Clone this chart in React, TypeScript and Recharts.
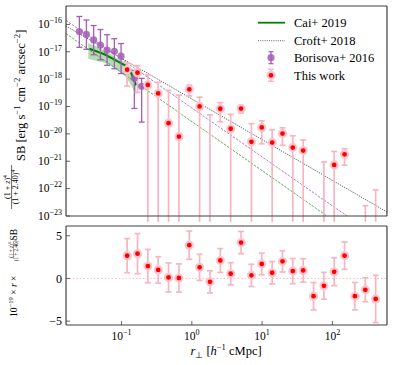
import React from "react";
import {
  ComposedChart,
  Scatter,
  Line,
  Area,
  XAxis,
  YAxis,
  ErrorBar,
  Legend,
  ReferenceLine,
} from "recharts";

const FONT = "'Liberation Serif', 'Times New Roman', Times, serif";
const FRAME = "#404040";
const PINK = "#f6b6c1";
const RED = "#ff0000";
const PURPLE = "#a35db6";
const GREEN = "#008000";
const BAND = "#b3dcb3";
const THIN = 0.01; // axes take no room; margins place the plot

// This work: bin centres [h^-1 cMpc], r x SB in units of 1e-19, 1 sigma
const rBins = [0.12, 0.1685, 0.2366, 0.332, 0.466, 0.655, 0.919, 1.29, 1.81, 2.54, 3.57, 5.01, 7.04, 9.88, 13.9, 19.5, 27.3, 38.4, 53.9, 75.7, 106, 149, 209, 294, 413];
const rSB = [2.67, 2.9, 1.45, 1.0, 0.115, 0.052, 3.9, 1.3, -0.4, 2.1, 0.55, 4.2, 0.36, 1.7, 0.67, 2.0, 0.86, 0.94, -2.08, -0.86, 0.78, 2.67, -2.08, -1.33, -2.4];
const rSBErr = [2.0, 2.35, 1.95, 1.55, 1.7, 1.65, 1.65, 1.53, 1.3, 1.4, 1.3, 1.3, 1.3, 1.27, 1.3, 1.25, 1.47, 1.37, 1.6, 1.57, 1.63, 1.6, 1.6, 1.4, 2.77];

// Borisova+ 2016
const borR = [0.0251, 0.0316, 0.0401, 0.05, 0.0622, 0.079, 0.0984, 0.152, 0.193];
const borSB = [5.5e-17, 4.3e-17, 2.7e-17, 1.76e-17, 1.15e-17, 1.04e-17, 6.9e-18, 1.1e-18, 5.5e-19];
const borLow = [1.45e-17, 1.23e-17, 7.8e-18, 5.1e-18, 3.2e-18, 2.4e-18, 1.6e-18, 8.5e-20, 2.7e-20];
const borHigh = [1.95e-16, 1.45e-16, 9.1e-17, 6.5e-17, 4.2e-17, 3.0e-17, 2.0e-17, 2.1e-18, 1.07e-18];

// Cai+ 2019 profile and its band
const caiR = [0.0348, 0.057, 0.088, 0.117, 0.138, 0.161];
const caiSB = [1.29e-17, 8.1e-18, 4.5e-18, 3.0e-18, 1.6e-18, 5.9e-19];
const caiBandR = [0.0336, 0.0457, 0.0636, 0.088, 0.116, 0.137, 0.161];
const caiBandLow = [5.6e-18, 4.5e-18, 3.7e-18, 2.1e-18, 1.2e-18, 5.9e-19, 2.7e-19];
const caiBandHigh = [2.1e-17, 1.48e-17, 9.8e-18, 5.6e-18, 4.0e-18, 2.4e-18, 1.38e-18];

// power-law lines (end points)
const croftR = [0.0162, 598];
const croftSB = [8.7e-17, 1.4e-23];
const borFitR = [0.0162, 161];
const borFitSB = [1.41e-16, 1e-23];
const caiFitR = [0.0162, 83.8];
const caiFitSB = [4.6e-17, 1e-23];

const legendLabels = ["Cai+ 2019", "Croft+ 2018", "Borisova+ 2016", "This work"];

const X_DOMAIN = [0.0162, 598];
const SB_DOMAIN = [1e-23, 4.7e-16];
const RES_DOMAIN = [-5.45, 6.14];

const xMajorTicks = [0.1, 1, 10, 100];
const xMinorTicks = [
  0.02, 0.03, 0.04, 0.05, 0.06, 0.07, 0.08, 0.09,
  0.2, 0.3, 0.4, 0.5, 0.6, 0.7, 0.8, 0.9,
  2, 3, 4, 5, 6, 7, 8, 9,
  20, 30, 40, 50, 60, 70, 80, 90,
  200, 300, 400, 500,
];
const sbDecades = [-23, -22, -21, -20, -19, -18, -17, -16];
const sbMajorTicks = sbDecades.map((d) => Math.pow(10, d));
const sbMinorTicks = sbDecades
  .flatMap((d) => [2, 3, 4, 5, 6, 7, 8, 9].map((m) => m * Math.pow(10, d)))
  .filter((v) => v < SB_DOMAIN[1]);
const resMajorTicks = [-5, 0, 5];
const resMinorTicks = [-4, -3, -2, -1, 1, 2, 3, 4, 6];

// tables
const FLOOR = 1e-24;
const thisWorkRes = rBins.map((r, i) => ({ r, v: rSB[i], err: [rSBErr[i], rSBErr[i]] }));
const thisWorkSB = rBins
  .map((r, i) => ({ r, sb: (rSB[i] * 1e-19) / r }))
  .filter((d) => d.sb > 0);
const thisWorkBars = rBins
  .map((r, i) => {
    const hi = ((rSB[i] + rSBErr[i]) * 1e-19) / r;
    const lo = Math.max(((rSB[i] - rSBErr[i]) * 1e-19) / r, FLOOR);
    return { r, sb: hi, err: [hi - lo, 0] };
  })
  .filter((d) => d.sb > SB_DOMAIN[0]);
const borisova = borR.map((r, i) => ({
  r,
  sb: borSB[i],
  err: [borSB[i] - borLow[i], borHigh[i] - borSB[i]],
}));
const cai = caiR.map((r, i) => ({ r, sb: caiSB[i] }));
const caiBand = caiBandR.map((r, i) => ({ r, band: [caiBandLow[i], caiBandHigh[i]] }));
const croft = croftR.map((r, i) => ({ r, sb: croftSB[i] }));
const borFit = borFitR.map((r, i) => ({ r, sb: borFitSB[i] }));
const caiFit = caiFitR.map((r, i) => ({ r, sb: caiFitSB[i] }));

const axisLine = { stroke: FRAME, strokeWidth: 1.2 };
const tickLine = { stroke: FRAME, strokeWidth: 0.8 };

function PowTick(props: any) {
  const { x, y, payload, textAnchor, shift } = props;
  const e = Math.round(Math.log10(payload.value));
  return (
    <text x={x} y={y + shift} textAnchor={textAnchor} fontFamily={FONT} fontSize={11.5} fill="#000">
      10
      <tspan dy={-5} fontSize={8}>
        {e < 0 ? "\u2212" + -e : String(e)}
      </tspan>
    </text>
  );
}

function RedDot(props: any) {
  const { cx, cy } = props;
  if (cx == null || cy == null) return <g />;
  return <circle cx={cx} cy={cy} r={3.5} fill={RED} stroke="#ffc4cd" strokeWidth={2.2} />;
}

function PurpleDot(props: any) {
  const { cx, cy } = props;
  if (cx == null || cy == null) return <g />;
  return <circle cx={cx} cy={cy} r={3.6} fill={PURPLE} fillOpacity={0.85} />;
}

function TopYLabel() {
  return (
    <g transform="translate(25,111) rotate(-90)" fontFamily={FONT} fill="#000">
      <text x={-76} y={-15.5} fontSize={8} textAnchor="middle">
        (1 + <tspan fontStyle="italic">z</tspan>)<tspan dy={-3} fontSize={5.6}>4</tspan>
      </text>
      <line x1={-98} x2={-54} y1={-13.4} y2={-13.4} stroke="#000" strokeWidth={0.6} />
      <text x={-76} y={-7} fontSize={8} textAnchor="middle">
        (1 + 2.40)<tspan dy={-3} fontSize={5.6}>4</tspan>
      </text>
      <text x={-50} y={0} fontSize={12.5}>
        SB [erg s<tspan dy={-4.6} fontSize={8.8}>{"\u22121"}</tspan>
        <tspan dy={4.6}>{" cm"}</tspan>
        <tspan dy={-4.6} fontSize={8.8}>{"\u22122"}</tspan>
        <tspan dy={4.6}>{" arcsec"}</tspan>
        <tspan dy={-4.6} fontSize={8.8}>{"\u22122"}</tspan>
        <tspan dy={4.6}>]</tspan>
      </text>
    </g>
  );
}

function BottomYLabel() {
  return (
    <g transform="translate(16.5,55) rotate(-90)" fontFamily={FONT} fill="#000">
      <text x={-42} y={0} fontSize={9.5}>
        10<tspan dy={-3.8} fontSize={6.6}>{"\u221219"}</tspan>
        <tspan dy={3.8}>{" \u00d7 "}</tspan>
        <tspan fontStyle="italic">r</tspan>
        {" \u00d7"}
      </text>
      <text x={25} y={-3.9} fontSize={5.2} textAnchor="middle">
        (1 + <tspan fontStyle="italic">z</tspan>)<tspan dy={-2} fontSize={3.8}>4</tspan>
      </text>
      <line x1={16.5} x2={33.5} y1={-3.1} y2={-3.1} stroke="#000" strokeWidth={0.4} />
      <text x={25} y={1.2} fontSize={5.2} textAnchor="middle">
        (1 + 2.40)<tspan dy={-2} fontSize={3.8}>4</tspan>
      </text>
      <text x={34.5} y={0} fontSize={9.5}>
        SB
      </text>
    </g>
  );
}

function XLabel() {
  return (
    <text x={226} y={135} textAnchor="middle" fontFamily={FONT} fontSize={12.5} fill="#000">
      <tspan fontStyle="italic">r</tspan>
      <tspan dy={2.5} fontSize={8.5}>{"\u22a5"}</tspan>
      <tspan dy={-2.5}>{" ["}</tspan>
      <tspan fontStyle="italic">h</tspan>
      <tspan dy={-5} fontSize={8.5}>{"\u22121"}</tspan>
      <tspan dy={5}>{" cMpc]"}</tspan>
    </text>
  );
}

function LegendBox() {
  const tx = 44;
  const rows = [12.7, 30.7, 47.7, 65.3];
  return (
    <svg width={140} height={80} style={{ display: "block" }} fontFamily={FONT}>
      <line x1={8} x2={35} y1={rows[0]} y2={rows[0]} stroke={GREEN} strokeWidth={1.8} />
      <line x1={8} x2={35} y1={rows[1]} y2={rows[1]} stroke="#555" strokeWidth={0.9} strokeDasharray="1 1.2" />
      <line x1={21} x2={21} y1={rows[2] - 6} y2={rows[2] + 6} stroke={PURPLE} strokeWidth={1.3} />
      <line x1={18.5} x2={23.5} y1={rows[2] - 6} y2={rows[2] - 6} stroke={PURPLE} strokeWidth={1.2} />
      <line x1={18.5} x2={23.5} y1={rows[2] + 6} y2={rows[2] + 6} stroke={PURPLE} strokeWidth={1.2} />
      <circle cx={21} cy={rows[2]} r={3.6} fill={PURPLE} fillOpacity={0.85} />
      <line x1={21} x2={21} y1={rows[3] - 6} y2={rows[3] + 6} stroke={PINK} strokeWidth={1.6} />
      <line x1={18} x2={24} y1={rows[3] - 6} y2={rows[3] - 6} stroke={PINK} strokeWidth={1.4} />
      <line x1={18} x2={24} y1={rows[3] + 6} y2={rows[3] + 6} stroke={PINK} strokeWidth={1.4} />
      <circle cx={21} cy={rows[3]} r={3.5} fill={RED} stroke="#ffc4cd" strokeWidth={2.2} />
      {legendLabels.map((t, i) => (
        <text key={t} x={tx} y={rows[i] + 4.3} fontSize={12.5} fill="#000">
          {t}
        </text>
      ))}
    </svg>
  );
}

function xFrame() {
  return [
    <XAxis key="xbm" xAxisId="xbm" dataKey="r" type="number" scale="log" domain={X_DOMAIN} allowDataOverflow ticks={xMinorTicks} interval={0} height={THIN} tickSize={-2} tick={false} axisLine={false} tickLine={tickLine} />,
    <XAxis key="xtM" xAxisId="xtM" orientation="top" dataKey="r" type="number" scale="log" domain={X_DOMAIN} allowDataOverflow ticks={xMajorTicks} interval={0} height={THIN} tickSize={-4} tick={false} axisLine={axisLine} tickLine={tickLine} />,
    <XAxis key="xtm" xAxisId="xtm" orientation="top" dataKey="r" type="number" scale="log" domain={X_DOMAIN} allowDataOverflow ticks={xMinorTicks} interval={0} height={THIN} tickSize={-2} tick={false} axisLine={false} tickLine={tickLine} />,
  ];
}

function TopPanel() {
  return (
    <ComposedChart width={394} height={222} margin={{ top: 6, right: 7, bottom: 6, left: 66 }}>
      <XAxis xAxisId="x" dataKey="r" type="number" scale="log" domain={X_DOMAIN} allowDataOverflow ticks={xMajorTicks} interval={0} height={THIN} tickSize={-4} tick={false} axisLine={axisLine} tickLine={tickLine} />
      {xFrame()}
      <YAxis
        yAxisId="y"
        dataKey="sb"
        type="number"
        scale="log"
        domain={SB_DOMAIN}
        allowDataOverflow
        ticks={sbMajorTicks}
        interval={0}
        width={THIN}
        tickSize={-4}
        tickMargin={8}
        tick={(p: any) => <PowTick {...p} shift={3.8} />}
        axisLine={axisLine}
        tickLine={tickLine}
        label={{ content: () => <TopYLabel /> }}
      />
      <YAxis yAxisId="ym" type="number" scale="log" domain={SB_DOMAIN} allowDataOverflow ticks={sbMinorTicks} interval={0} width={THIN} tickSize={-2} tick={false} axisLine={false} tickLine={tickLine} />
      <YAxis yAxisId="yr" orientation="right" type="number" scale="log" domain={SB_DOMAIN} allowDataOverflow ticks={sbMajorTicks} interval={0} width={THIN} tickSize={-4} tick={false} axisLine={axisLine} tickLine={tickLine} />
      <YAxis yAxisId="yrm" orientation="right" type="number" scale="log" domain={SB_DOMAIN} allowDataOverflow ticks={sbMinorTicks} interval={0} width={THIN} tickSize={-2} tick={false} axisLine={false} tickLine={tickLine} />

      <Area xAxisId="x" yAxisId="y" data={caiBand} dataKey="band" type="linear" stroke="none" fill={BAND} fillOpacity={1} isAnimationActive={false} dot={false} activeDot={false} />
      <Line xAxisId="x" yAxisId="y" data={croft} dataKey="sb" type="linear" stroke="#333" strokeWidth={0.9} strokeDasharray="1 1.2" dot={false} activeDot={false} isAnimationActive={false} />
      <Line xAxisId="x" yAxisId="y" data={borFit} dataKey="sb" type="linear" stroke={PURPLE} strokeWidth={0.8} strokeDasharray="2.5 1.2" dot={false} activeDot={false} isAnimationActive={false} />
      <Line xAxisId="x" yAxisId="y" data={caiFit} dataKey="sb" type="linear" stroke="#2f9a2f" strokeWidth={0.8} strokeDasharray="2.5 1.2" dot={false} activeDot={false} isAnimationActive={false} />
      <Line xAxisId="x" yAxisId="y" data={cai} dataKey="sb" type="linear" stroke={GREEN} strokeWidth={2} dot={false} activeDot={false} isAnimationActive={false} />

      <Scatter xAxisId="x" yAxisId="y" data={borisova} shape={PurpleDot} isAnimationActive={false}>
        <ErrorBar dataKey="err" direction="y" width={3} stroke={PURPLE} strokeWidth={1.3} />
      </Scatter>
      <Scatter xAxisId="x" yAxisId="y" data={thisWorkBars} shape={() => <g />} isAnimationActive={false}>
        <ErrorBar dataKey="err" direction="y" width={3} stroke={PINK} strokeWidth={1.7} />
      </Scatter>
      <Scatter xAxisId="x" yAxisId="y" data={thisWorkSB} shape={RedDot} isAnimationActive={false} />

      <Legend
        layout="horizontal"
        verticalAlign="middle"
        align="center"
        content={() => <LegendBox />}
        wrapperStyle={{ position: "absolute", left: 250, top: 10, width: 140, height: 80 }}
      />
    </ComposedChart>
  );
}

function BottomPanel() {
  return (
    <ComposedChart width={394} height={145} margin={{ top: 6, right: 7, bottom: 40, left: 66 }}>
      <XAxis
        xAxisId="x"
        dataKey="r"
        type="number"
        scale="log"
        domain={X_DOMAIN}
        allowDataOverflow
        ticks={xMajorTicks}
        interval={0}
        height={THIN}
        tickSize={-4}
        tickMargin={14}
        tick={(p: any) => <PowTick {...p} shift={5} />}
        axisLine={axisLine}
        tickLine={tickLine}
        label={{ content: () => <XLabel /> }}
      />
      {xFrame()}
      <YAxis
        yAxisId="y"
        dataKey="v"
        type="number"
        domain={RES_DOMAIN}
        allowDataOverflow
        ticks={resMajorTicks}
        interval={0}
        width={THIN}
        tickSize={-4}
        tickMargin={8}
        tickFormatter={(v: number) => (v < 0 ? "\u2212" + -v : String(v))}
        tick={{ fontFamily: FONT, fontSize: 12, fill: "#000" }}
        axisLine={axisLine}
        tickLine={tickLine}
        label={{ content: () => <BottomYLabel /> }}
      />
      <YAxis yAxisId="ym" type="number" domain={RES_DOMAIN} allowDataOverflow ticks={resMinorTicks} interval={0} width={THIN} tickSize={-2} tick={false} axisLine={false} tickLine={tickLine} />
      <YAxis yAxisId="yr" orientation="right" type="number" domain={RES_DOMAIN} allowDataOverflow ticks={resMajorTicks} interval={0} width={THIN} tickSize={-4} tick={false} axisLine={axisLine} tickLine={tickLine} />
      <YAxis yAxisId="yrm" orientation="right" type="number" domain={RES_DOMAIN} allowDataOverflow ticks={resMinorTicks} interval={0} width={THIN} tickSize={-2} tick={false} axisLine={false} tickLine={tickLine} />

      <ReferenceLine xAxisId="x" yAxisId="y" y={0} stroke="#ffb8c4" strokeWidth={1} strokeDasharray="1.5 2" />
      <Scatter xAxisId="x" yAxisId="y" data={thisWorkRes} shape={RedDot} isAnimationActive={false}>
        <ErrorBar dataKey="err" direction="y" width={3} stroke={PINK} strokeWidth={1.7} />
      </Scatter>
    </ComposedChart>
  );
}

export default function App() {
  return (
    <div style={{ position: "absolute", left: 0, top: 0, width: 394, height: 365, background: "#fff" }}>
      <div style={{ position: "absolute", left: 0, top: 0 }}>
        <TopPanel />
      </div>
      <div style={{ position: "absolute", left: 0, top: 220 }}>
        <BottomPanel />
      </div>
    </div>
  );
}
